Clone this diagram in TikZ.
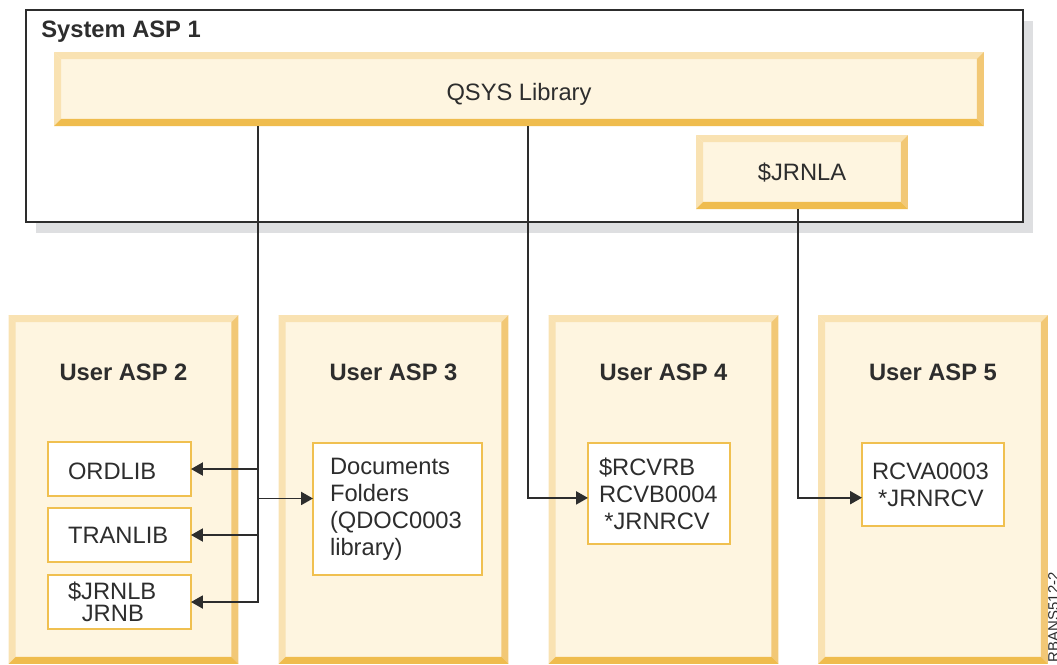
\documentclass[tikz,border=0pt]{standalone}
\usepackage{fontspec}
\setmainfont{Liberation Sans}
\usetikzlibrary{arrows.meta}

\definecolor{face}{RGB}{254,245,224}
\definecolor{bevlite}{RGB}{249,226,178}
\definecolor{bevside}{RGB}{242,200,118}
\definecolor{bevbot}{RGB}{239,188,78}
\definecolor{libline}{RGB}{240,192,80}
\definecolor{ink}{RGB}{45,45,45}
\definecolor{shadowgray}{RGB}{222,223,225}

% raised edge round a box node
\newcommand{\raiseedge}[1]{%
  \fill[bevlite] (#1.north west) -- (#1.north east) -- ([shift={(-4pt,-4pt)}]#1.north east) -- ([shift={(4pt,-4pt)}]#1.north west) -- cycle;
  \fill[bevlite] (#1.north west) -- ([shift={(4pt,-4pt)}]#1.north west) -- ([shift={(4pt,4pt)}]#1.south west) -- (#1.south west) -- cycle;
  \fill[bevside] (#1.north east) -- (#1.south east) -- ([shift={(-4pt,4pt)}]#1.south east) -- ([shift={(-4pt,-4pt)}]#1.north east) -- cycle;
  \fill[bevbot] (#1.south west) -- (#1.south east) -- ([shift={(-4pt,4pt)}]#1.south east) -- ([shift={(4pt,4pt)}]#1.south west) -- cycle;}

\begin{document}
\begin{tikzpicture}[x=0.02cm,y=-0.02cm,text=ink,
    font=\fontsize{13.5}{15.3}\selectfont,
    raised/.style={fill=face,outer sep=0pt,inner sep=0pt,text height=9.7pt,text depth=0pt},
    asptitle/.style={font=\fontsize{13.5}{15.3}\selectfont\bfseries,anchor=base,inner sep=0pt},
    libbox/.style={draw=libline,line width=0.8pt,fill=white,align=left,inner ysep=0pt,outer sep=0pt},
    link/.style={draw=ink,line width=1.1pt,-{Triangle[length=6.8pt,width=7.4pt]}}] % ASPs and journal objects
   \clip (0,0) rectangle (1057,664);
   % system ASP
   \node[draw=ink,line width=1.3pt,fill=white,outer sep=0pt,minimum width=19.94cm,minimum height=4.24cm] (sysasp) at (524.5,116) {};
   \fill[shadowgray] ([shift={(5.7pt,-6pt)}]sysasp.south west) rectangle ([shift={(5.7pt,-6pt)}]sysasp.north east);
   \node[draw=ink,line width=1.3pt,fill=white,outer sep=0pt,minimum width=19.94cm,minimum height=4.24cm] at (524.5,116) {};
   \node[asptitle,anchor=base west] (systitle) at (41,37) {System ASP 1};
   \node[raised,minimum width=18.6cm,minimum height=1.48cm] (qsys) at (519,89) {\raisebox{-1.5pt}{QSYS Library}};
   \raiseedge{qsys}
   \node[raised,minimum width=4.24cm,minimum height=1.48cm] (jrnla) at (802,172) {\$JRNLA};
   \raiseedge{jrnla}
   % user ASPs
   \node[raised,minimum width=4.6cm,minimum height=6.98cm] (asp2) at (123.5,489.5) {};
   \raiseedge{asp2}
   \node[raised,minimum width=4.6cm,minimum height=6.98cm] (asp3) at (393.5,489.5) {};
   \raiseedge{asp3}
   \node[raised,minimum width=4.6cm,minimum height=6.98cm] (asp4) at (663.5,489.5) {};
   \raiseedge{asp4}
   \node[raised,minimum width=4.6cm,minimum height=6.98cm] (asp5) at (933,489.5) {};
   \raiseedge{asp5}
   \node[asptitle] (title2) at (123.5,380.5) {User ASP 2};
   \node[asptitle] (title3) at (393.5,380.5) {User ASP 3};
   \node[asptitle] (title4) at (663.5,380.5) {User ASP 4};
   \node[asptitle] (title5) at (933,380.5) {User ASP 5};
   % libraries
   \node[libbox,inner xsep=0.4cm,text width=2.06cm,minimum height=1.08cm,text depth=0pt] (ordlib) at (119.5,469) {\raisebox{-2pt}{ORDLIB}};
   \node[libbox,inner xsep=0.4cm,text width=2.06cm,minimum height=1.08cm] (tranlib) at (119.5,535) {TRANLIB};
   \node[libbox,inner xsep=0.4cm,text width=2.06cm,minimum height=1.08cm] (jrnlb) at (119.5,602) {\$JRNLB\\[-2.5pt]\hspace*{7.9pt}JRNB};
   \node[libbox,inner xsep=0.34cm,text width=2.7cm,minimum height=2.64cm] (docs) at (397.5,509) {Documents\\Folders\\(QDOC0003\\library)};
   \node[libbox,inner xsep=0.22cm,text width=2.4cm,minimum height=2.02cm] (rcvrb) at (659,493.5) {\$RCVRB\\RCVB0004\\\hspace*{3pt}*JRNRCV};
   \node[libbox,inner xsep=0.2cm,text width=2.44cm,minimum height=1.66cm] (rcva) at (933,484.5) {RCVA0003\\\hspace*{3.5pt}*JRNRCV};
   \node[rotate=90,anchor=base east,inner sep=0pt,font=\fontsize{8.5}{10}\selectfont] (figid) at (1058.5,572) {RBANS512-2};
   % connectors
   \coordinate (busA) at (258,126);
   \coordinate (busB) at (528,126);
   \coordinate (busC) at (798,209);
   \path ([yshift=6pt]docs.west) coordinate (docsin);
   \path ([yshift=-2.5pt]rcvrb.west) coordinate (rcvrbin);
   \path ([yshift=-7.5pt]rcva.west) coordinate (rcvain);
   \draw[link] (qsys.south -| busA) |- (jrnlb.east);
   \draw[link] (busA |- ordlib.east) -- (ordlib.east);
   \draw[link] (busA |- tranlib.east) -- (tranlib.east);
   \draw[link] (busA |- docsin) -- (docsin);
   \draw[link] (qsys.south -| busB) |- (rcvrbin);
   \draw[link] (jrnla.south -| busC) |- (rcvain);
\end{tikzpicture}
\end{document}
